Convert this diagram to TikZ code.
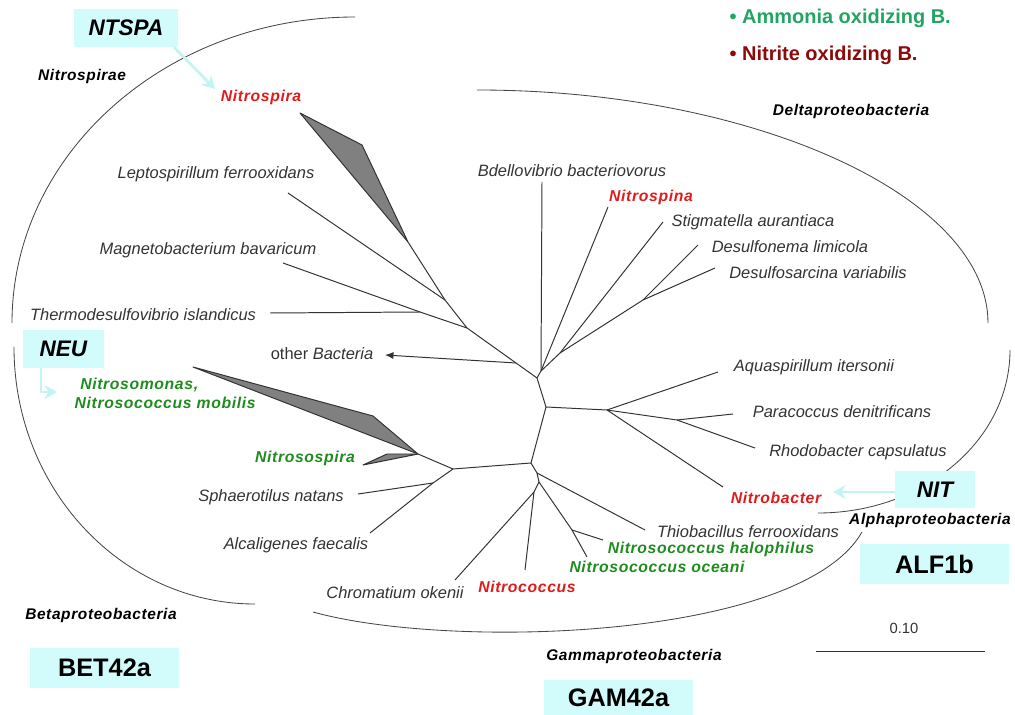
\documentclass[tikz,border=0pt]{standalone}
\usepackage{fontspec}
\setmainfont{Liberation Sans}
\newfontfamily\wide[LetterSpace=4]{Liberation Sans}
\usetikzlibrary{arrows.meta}
\definecolor{boxc}{HTML}{D2FBFB}
\definecolor{arrc}{HTML}{C4F3F3}
\definecolor{spc}{HTML}{333333}
\definecolor{nob}{HTML}{E01B1B}
\definecolor{aob}{HTML}{1E8C1E}
\definecolor{legg}{HTML}{22A463}
\definecolor{legr}{HTML}{8C0A0A}
\tikzset{sp/.style={font=\fontsize{11.7}{13}\selectfont\itshape, text=spc}}
\tikzset{cl/.style={font=\wide\fontsize{11}{13}\selectfont\bfseries\itshape}}
\tikzset{ob/.style={font=\wide\fontsize{11.2}{13.5}\selectfont\bfseries\itshape, text=nob}}
\tikzset{ao/.style={ob, text=aob}}
\tikzset{bx/.style={fill=boxc, font=\fontsize{18}{20}\selectfont\bfseries, minimum width=3.725cm, minimum height=1cm}}
\tikzset{bxi/.style={bx, font=\fontsize{16}{18}\selectfont\bfseries\itshape}}
\tikzset{br/.style={draw=spc, line width=0.7pt}}
\tikzset{arc/.style={draw=spc!90, line width=0.6pt}}
\tikzset{wg/.style={br, fill=gray, line join=round}}
\tikzset{ar/.style={draw=arrc, line width=2pt, -{Stealth[length=9pt,width=10pt]}}}

\begin{document}
\begin{tikzpicture}[x=0.025cm, y=-0.025cm]
\tikzstyle{every node}=[inner sep=1pt]
\useasboundingbox (0,0) rectangle (1015,715);
\coordinate (nA) at (537,378);
\coordinate (nB) at (546,407);
\coordinate (nC) at (531,463);
\coordinate (nG) at (537,473);
\coordinate (nH) at (539,482);
\coordinate (nH2) at (534,492);
\coordinate (nK) at (572,530);
\coordinate (nE) at (453,469);
\coordinate (nF) at (418,454);
\coordinate (nBk) at (433,483);
\coordinate (nJ4) at (516,363);
\coordinate (nJ2) at (467,328);
\coordinate (nJ3) at (420,312);
\coordinate (nJ1) at (445,300);
\coordinate (nW1) at (408,242);
\coordinate (nDj) at (541,371);
\coordinate (nDk) at (560,353);
\coordinate (nDl) at (643,300);
\coordinate (nAj) at (607,410);
\coordinate (nAk) at (677,420);
\coordinate (tNsa) at (300,113);
\coordinate (tNsb) at (362,145);
\coordinate (tLep) at (288,193);
\coordinate (tMag) at (283,263);
\coordinate (tThe) at (270,313);
\coordinate (tOth) at (385,355);
\coordinate (tBde) at (542,182);
\coordinate (tNsp) at (608,207);
\coordinate (tSti) at (663,222);
\coordinate (tDsn) at (698,245);
\coordinate (tDss) at (715,268);
\coordinate (tAqu) at (718,372);
\coordinate (tPar) at (733,414);
\coordinate (tRho) at (755,448);
\coordinate (tNbc) at (723,487);
\coordinate (tThi) at (645,530);
\coordinate (tHal) at (603,540);
\coordinate (tOce) at (587,557);
\coordinate (tNcc) at (525,570);
\coordinate (tChr) at (455,580);
\coordinate (tAlc) at (370,533);
\coordinate (tSph) at (358,494);
\coordinate (tNma) at (193,367);
\coordinate (tNmb) at (373,416);
\coordinate (tNoa) at (363,465);
\coordinate (tNob) at (387,454);

\draw[arc] (355,17) .. controls (166,17) and (12,154) .. (12,323);
\draw[arc] (14,347) .. controls (14,489) and (122,604) .. (255,604);
\draw[arc] (477,90) .. controls (755,90) and (988,197) .. (988,323);
\draw[arc] (1010,350) .. controls (1010,440) and (924,513) .. (818,513);
\draw[arc] (862,532) .. controls (800,640) and (450,650) .. (313,612);

\draw[wg] (tNsa) -- (tNsb) -- (nW1) -- cycle;
\draw[wg] (tNma) -- (tNmb) -- (nF) -- cycle;
\draw[wg] (tNoa) -- (tNob) -- (nF) -- cycle;
\draw[br] (nW1) -- (nJ1) -- (nJ2) -- (nJ4) -- (nA) -- (nB) -- (nC) -- (nG) -- (nH) -- (nH2) -- (tNcc);
\draw[br] (tLep) -- (nJ1);
\draw[br] (tMag) -- (nJ3) -- (nJ2);
\draw[br] (tThe) -- (nJ3);
\draw[br, -{Latex[length=6pt,width=5pt]}] (nJ4) -- (tOth);
\draw[br] (tBde) -- (nDj) -- (nA);
\draw[br] (tNsp) -- (nDj);
\draw[br] (tSti) -- (nDk) -- (nDj);
\draw[br] (tDsn) -- (nDl) -- (nDk);
\draw[br] (tDss) -- (nDl);
\draw[br] (nB) -- (nAj) -- (tAqu);
\draw[br] (nAj) -- (nAk) -- (tPar);
\draw[br] (nAk) -- (tRho);
\draw[br] (nAj) -- (tNbc);
\draw[br] (nC) -- (nE) -- (nF);
\draw[br] (nE) -- (nBk) -- (tSph);
\draw[br] (nBk) -- (tAlc);
\draw[br] (nG) -- (tThi);
\draw[br] (nH) -- (nK) -- (tOce);
\draw[br] (nK) -- (tHal);
\draw[br] (nH2) -- (tChr);

\node[cl] (nitrospirae) at (82,77) {Nitrospirae};
\node[cl] (delta) at (851,112) {Deltaproteobacteria};
\node[cl] (alpha) at (930,521) {Alphaproteobacteria};
\node[cl] (gamma) at (634,657) {Gammaproteobacteria};
\node[cl] (beta) at (101,615) {Betaproteobacteria};
\node[ob] (nspira) at (261,97) {Nitrospira};
\node[sp] (lepto) at (216,174) {Leptospirillum ferrooxidans};
\node[sp] (magneto) at (208,250) {Magnetobacterium bavaricum};
\node[sp] (thermo) at (143,315) {Thermodesulfovibrio islandicus};
\node[sp, font=\fontsize{11.7}{13}\selectfont] (other) at (322,354) {other \textit{Bacteria}};
\node[ao, anchor=west, align=left] (nmonas) at (73,393) {\hspace*{4pt}Nitrosomonas,\\Nitrosococcus mobilis};
\node[ao] (nsospira) at (305,458) {Nitrosospira};
\node[sp] (sphaer) at (271,497) {Sphaerotilus natans};
\node[sp] (alcal) at (296,545) {Alcaligenes faecalis};
\node[sp] (chrom) at (395,593) {Chromatium okenii};
\node[ob] (ncoccus) at (527,587) {Nitrococcus};
\node[ao] (noceani) at (657,567) {Nitrosococcus oceani};
\node[ao] (nhalo) at (711,549) {Nitrosococcus halophilus};
\node[sp] (thio) at (748,532) {Thiobacillus ferrooxidans};
\node[ob] (nbacter) at (776,498) {Nitrobacter};
\node[sp] (rhodo) at (858,452) {Rhodobacter capsulatus};
\node[sp] (para) at (842,412) {Paracoccus denitrificans};
\node[sp] (aqua) at (814,367) {Aquaspirillum itersonii};
\node[sp] (desulfs) at (818,273) {Desulfosarcina variabilis};
\node[sp] (desulfn) at (790,247) {Desulfonema limicola};
\node[sp] (stigma) at (753,222) {Stigmatella aurantiaca};
\node[ob] (nspina) at (651,197) {Nitrospina};
\node[sp] (bdello) at (572,171) {Bdellovibrio bacteriovorus};

\node[anchor=west, text=legg, font=\fontsize{14.2}{16}\selectfont\bfseries] (aobleg) at (728,18) {\textbullet\ Ammonia oxidizing B.};
\node[anchor=west, text=legr, font=\fontsize{14.2}{16}\selectfont\bfseries] (nobleg) at (728,55) {\textbullet\ Nitrite oxidizing B.};

\coordinate (sbl) at (816,651);
\coordinate (sbr) at (985,651);
\draw[br] (sbl) -- (sbr);
\node[text=spc, font=\fontsize{10.5}{12}\selectfont] (scale) at (904,628) {0.10};

\node[bxi, minimum width=2.6cm, minimum height=0.95cm] (ntspa) at (126,28) {NTSPA};
\node[bxi, minimum width=2.025cm, minimum height=0.95cm] (neu) at (63.5,349) {NEU};
\node[bxi, minimum width=2cm, minimum height=0.925cm] (nit) at (935,489.5) {NIT};
\node[bx] (bet) at (104.5,668) {BET42a};
\node[bx, minimum height=0.875cm] (gam) at (618.5,697.5) {GAM42a};
\node[bx] (alf) at (934.5,564) {ALF1b};
\coordinate (ntspaend) at (215,89);
\coordinate (neubend) at (41,392);
\coordinate (neuend) at (57,392);
\coordinate (nitend) at (833,492);
\draw[ar] ([xshift=-3pt]ntspa.south east) -- (ntspaend);
\draw[ar] (neu.south -| neubend) -- (neubend) -- (neuend);
\draw[ar] (nit.west |- nitend) -- (nitend);
\end{tikzpicture}
\end{document}
